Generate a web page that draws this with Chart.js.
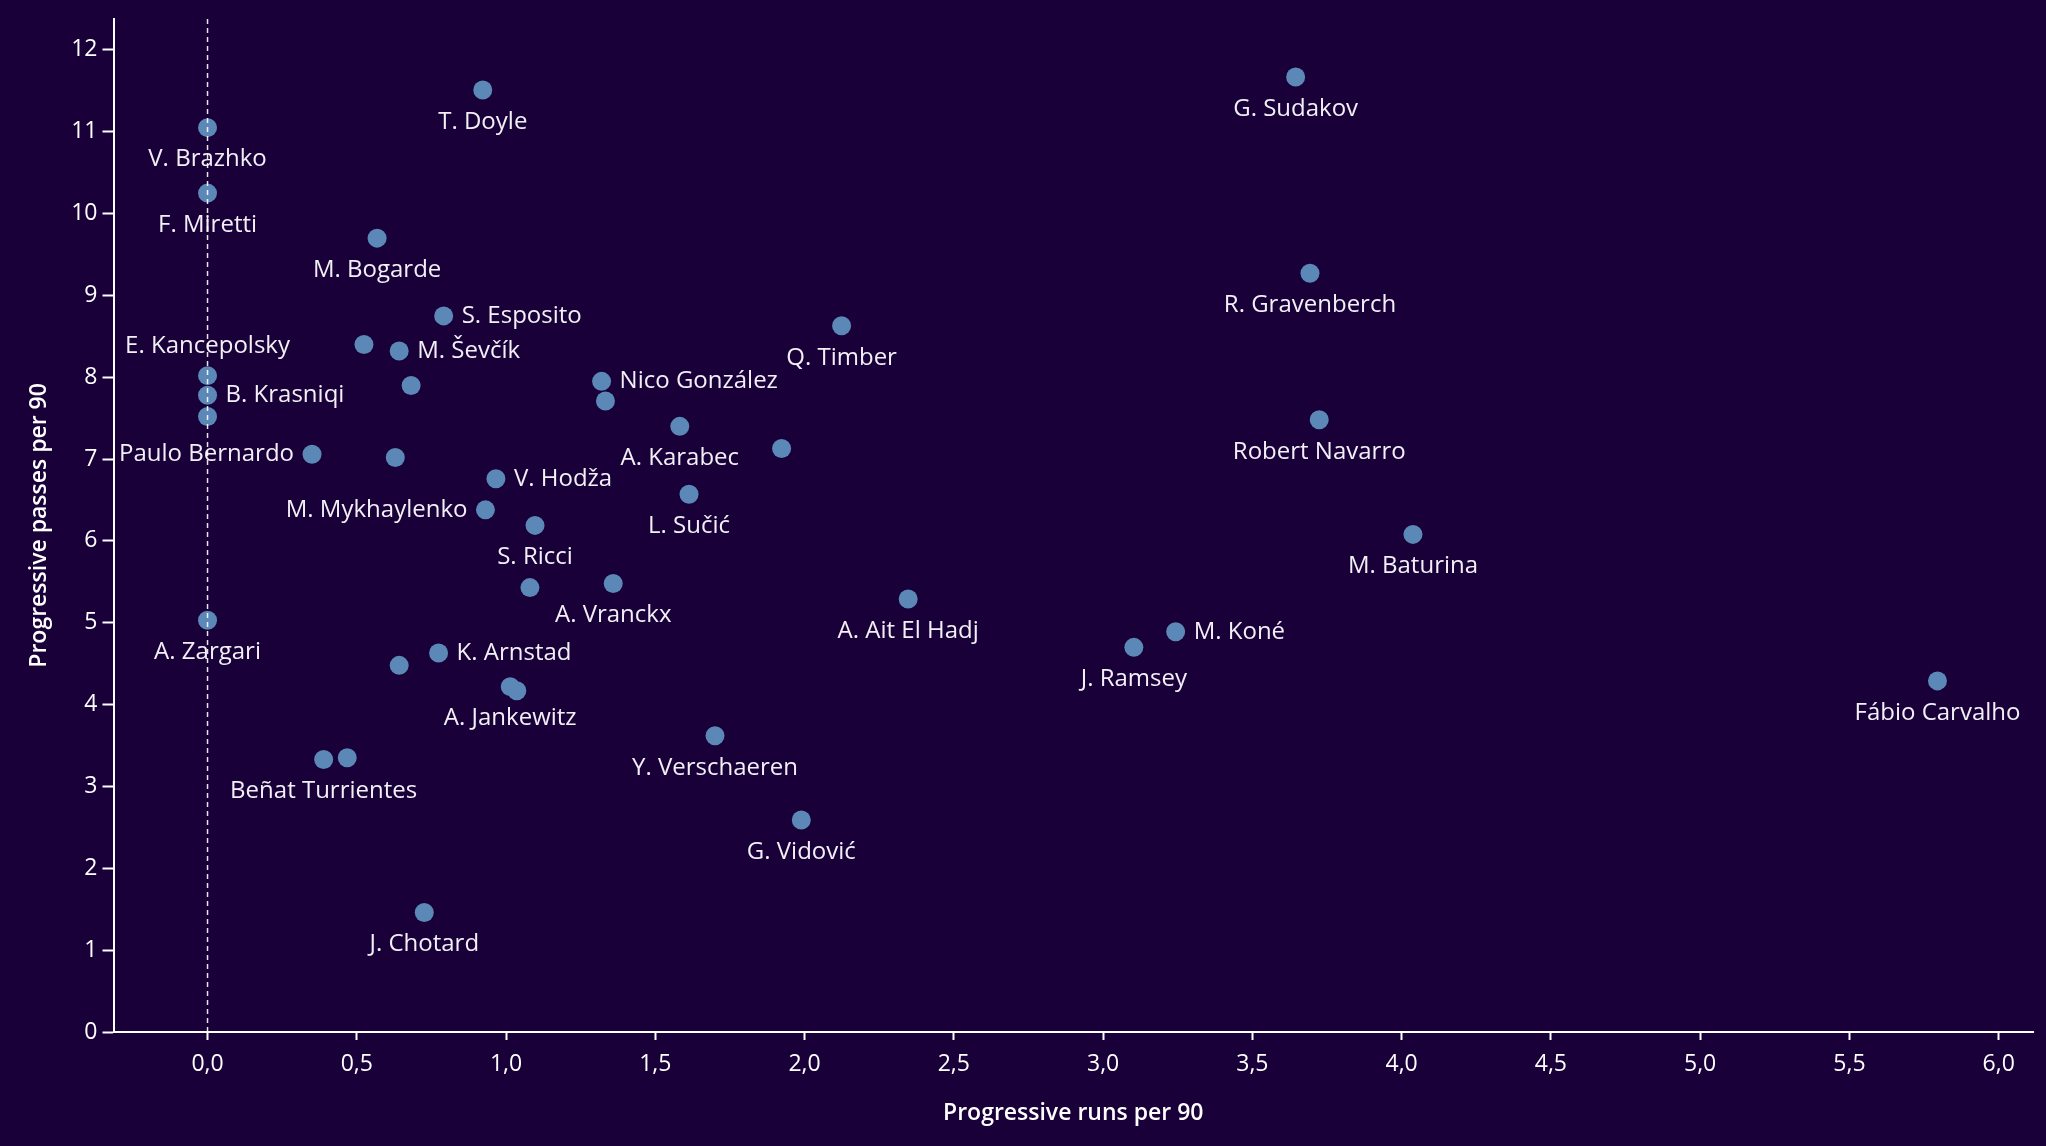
<!DOCTYPE html>
<html lang="en">
<head>
  <meta charset="UTF-8">
  <title>Progressive runs vs progressive passes</title>
  <script src="https://cdn.jsdelivr.net/npm/chart.js"></script>
  <style>
    html, body {
      margin: 0;
      padding: 0;
      background: #190039;
    }
    canvas {
      display: block;
    }
  </style>
</head>
<body>
  <canvas id="scatterChart" width="2046" height="1146"></canvas>

  <script>
    // player names (null = point without a visible label)
    const players = [
      'G. Sudakov', 'T. Doyle', 'V. Brazhko', 'F. Miretti', 'M. Bogarde', 'R. Gravenberch',
      'S. Esposito', 'Q. Timber', null, 'M. Ševčík', 'E. Kancepolsky', 'B. Krasniqi',
      null, null, 'Nico González', null, 'A. Karabec', 'Robert Navarro',
      null, 'Paulo Bernardo', null, 'V. Hodža', 'L. Sučić', 'M. Mykhaylenko',
      'S. Ricci', 'M. Baturina', 'A. Vranckx', null, 'A. Ait El Hadj', 'A. Zargari',
      'M. Koné', 'J. Ramsey', 'K. Arnstad', null, 'Fábio Carvalho', 'A. Jankewitz',
      null, 'Y. Verschaeren', 'Beñat Turrientes', null, 'G. Vidović', 'J. Chotard'
    ];

    // progressive runs per 90
    const runs = [
      3.645, 0.922, 0, 0, 0.568, 3.693,
      0.791, 2.124, 0.524, 0.642, 0, 0,
      0, 0.682, 1.320, 1.333, 1.582, 3.724,
      1.923, 0.350, 0.629, 0.966, 1.613, 0.931,
      1.097, 4.038, 1.359, 1.080, 2.347, 0,
      3.243, 3.103, 0.774, 0.642, 5.795, 1.014,
      1.036, 1.700, 0.389, 0.468, 1.989, 0.726
    ];

    // progressive passes per 90
    const passes = [
      11.67, 11.51, 11.05, 10.25, 9.70, 9.27,
      8.75, 8.63, 8.40, 8.32, 8.02, 7.78,
      7.52, 7.90, 7.95, 7.71, 7.40, 7.48,
      7.13, 7.06, 7.02, 6.76, 6.57, 6.38,
      6.19, 6.08, 5.48, 5.43, 5.29, 5.03,
      4.89, 4.70, 4.63, 4.48, 4.29, 4.22,
      4.17, 3.62, 3.33, 3.35, 2.59, 1.46
    ];

    const xTicks = [0, 0.5, 1, 1.5, 2, 2.5, 3, 3.5, 4, 4.5, 5, 5.5, 6];
    const yTicks = [0, 1, 2, 3, 4, 5, 6, 7, 8, 9, 10, 11, 12];

    const X_MIN = -0.315, X_MAX = 6.115;
    const Y_MIN = 0, Y_MAX = 12.38;

    // where a label sits next to its dot (default: below)
    const labelSide = {
      'S. Esposito': 'right',
      'M. Ševčík': 'right',
      'B. Krasniqi': 'right',
      'Nico González': 'right',
      'V. Hodža': 'right',
      'K. Arnstad': 'right',
      'M. Koné': 'right',
      'Paulo Bernardo': 'left',
      'M. Mykhaylenko': 'left',
      'E. Kancepolsky': 'above'
    };

    const FONT = "'Open Sans', sans-serif";
    const points = runs.map((r, i) => ({ x: r, y: passes[i] }));

    const pointLabels = {
      id: 'pointLabels',
      beforeDatasetsDraw(chart) {
        const ctx = chart.ctx;
        const xs = chart.scales.x;
        const ys = chart.scales.y;
        ctx.save();
        ctx.font = '24px ' + FONT;
        ctx.fillStyle = '#f2f0f6';
        ctx.textBaseline = 'middle';
        players.forEach((name, i) => {
          if (!name) return;
          const px = xs.getPixelForValue(runs[i]);
          const py = ys.getPixelForValue(passes[i]);
          const side = labelSide[name] || 'below';
          if (side === 'right') {
            ctx.textAlign = 'left';
            ctx.fillText(name, px + 18, py);
          } else if (side === 'left') {
            ctx.textAlign = 'right';
            ctx.fillText(name, px - 18, py);
          } else if (side === 'above') {
            ctx.textAlign = 'center';
            ctx.fillText(name, px, py - 29);
          } else {
            ctx.textAlign = 'center';
            ctx.fillText(name, px, py + 32);
          }
        });
        ctx.restore();
      }
    };

    const ctx = document.getElementById('scatterChart').getContext('2d');

    new Chart(ctx, {
      type: 'scatter',
      data: {
        datasets: [
          {
            // dashed reference line at zero runs
            type: 'line',
            data: [{ x: 0, y: Y_MIN }, { x: 0, y: Y_MAX }],
            borderColor: 'rgba(255, 255, 255, 0.9)',
            borderWidth: 1.5,
            borderDash: [5, 4],
            pointRadius: 0,
            fill: false
          },
          {
            label: 'Players',
            data: points,
            backgroundColor: '#5b88b7',
            borderWidth: 0,
            pointRadius: 9.5,
            pointHoverRadius: 9.5
          }
        ]
      },
      options: {
        responsive: false,
        animation: false,
        layout: {
          padding: { top: 16, right: 13, left: 0, bottom: 0 }
        },
        plugins: {
          legend: { display: false },
          tooltip: { enabled: false }
        },
        scales: {
          x: {
            type: 'linear',
            min: X_MIN,
            max: X_MAX,
            afterBuildTicks: (scale) => {
              scale.ticks = xTicks.map(v => ({ value: v }));
            },
            afterFit: (scale) => { scale.height = 114; },
            border: { display: true, color: '#ffffff', width: 2 },
            grid: {
              drawOnChartArea: false,
              drawTicks: true,
              tickLength: 8,
              tickWidth: 2,
              color: '#ffffff'
            },
            ticks: {
              color: '#ffffff',
              padding: 11,
              font: { family: FONT, size: 23 },
              callback: (v) => v.toFixed(1).replace('.', ',')
            },
            title: {
              display: true,
              text: 'Progressive runs per 90',
              color: '#ffffff',
              font: { family: FONT, size: 23, weight: '600' },
              padding: { top: 0, bottom: 19 }
            }
          },
          y: {
            type: 'linear',
            min: Y_MIN,
            max: Y_MAX,
            afterBuildTicks: (scale) => {
              scale.ticks = yTicks.map(v => ({ value: v }));
            },
            afterFit: (scale) => { scale.width = 113.5; },
            border: { display: true, color: '#ffffff', width: 2 },
            grid: {
              drawOnChartArea: false,
              drawTicks: true,
              tickLength: 11,
              tickWidth: 2,
              color: '#ffffff'
            },
            ticks: {
              color: '#ffffff',
              padding: 5,
              font: { family: FONT, size: 23 },
              callback: (v) => String(v)
            },
            title: {
              display: true,
              text: 'Progressive passes per 90',
              color: '#ffffff',
              font: { family: FONT, size: 23, weight: '600' },
              padding: { top: 26, bottom: 0 }
            }
          }
        }
      },
      plugins: [pointLabels]
    });
  </script>
</body>
</html>
